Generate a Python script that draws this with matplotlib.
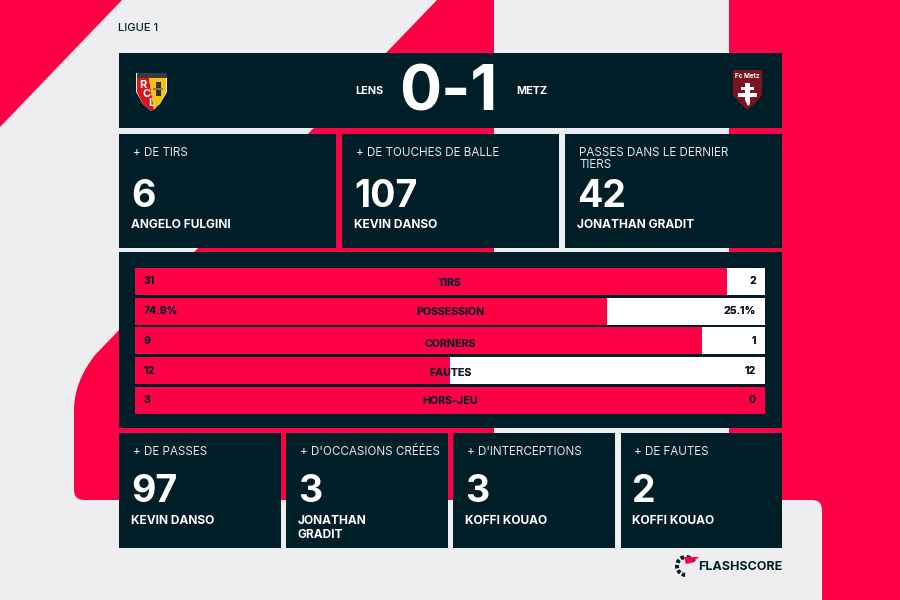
import matplotlib
matplotlib.use("Agg")
import matplotlib.pyplot as plt
from matplotlib.patches import Polygon, Rectangle, PathPatch, Wedge
from matplotlib.path import Path
import numpy as np

# ---- data ----
league = "LIGUE 1"
home_team = "LENS"
away_team = "METZ"
score = "0-1"
top_labels = ["+ DE TIRS", "+ DE TOUCHES DE BALLE", "PASSES DANS LE DERNIER\nTIERS"]
top_values = ["6", "107", "42"]
top_names = ["ANGELO FULGINI", "KEVIN DANSO", "JONATHAN GRADIT"]
bottom_labels = ["+ DE PASSES", "+ D'OCCASIONS CRÉÉES", "+ D'INTERCEPTIONS", "+ DE FAUTES"]
bottom_values = ["97", "3", "3", "2"]
bottom_names = ["KEVIN DANSO", "JONATHAN\nGRADIT", "KOFFI KOUAO", "KOFFI KOUAO"]
stat_names = ["TIRS", "POSSESSION", "CORNERS", "FAUTES", "HORS-JEU"]
home_stats = [31, 74.9, 9, 12, 3]
away_stats = [2, 25.1, 1, 12, 0]
home_text = ["31", "74.9%", "9", "12", "3"]
away_text = ["2", "25.1%", "1", "12", "0"]

# ---- style ----
RED = "#FF0046"
DARK = "#001E28"
LIGHT = "#EEEEF0"
MAROON = "#850A35"
WHITE = "#FFFFFF"
SOFT = "#E4E8EA"
FONT = ["Inter", "DejaVu Sans"]
plt.rcParams["font.family"] = FONT

fig = plt.figure(figsize=(9, 6), dpi=100, facecolor=LIGHT)
bg = fig.add_axes([0, 0, 1, 1])
bg.set_xlim(0, 900)
bg.set_ylim(600, 0)
bg.axis("off")

# background shapes
bg.add_patch(Polygon([(0, 0), (122, 0), (0, 127)], fc=RED, ec="none"))
verts = [(437, 0), (494, 0), (494, 500), (84, 500), (74, 500), (74, 490), (74, 410),
         (74, 382), (95, 355), (437, 0)]
codes = [Path.MOVETO, Path.LINETO, Path.LINETO, Path.LINETO, Path.CURVE3, Path.CURVE3,
         Path.LINETO, Path.CURVE3, Path.CURVE3, Path.LINETO]
bg.add_patch(PathPatch(Path(verts, codes), fc=RED, ec="none"))
bg.add_patch(Rectangle((729, 0), 171, 500, fc=RED, ec="none"))
bg.add_patch(Rectangle((812, 490), 88, 110, fc=RED, ec="none"))
verts = [(700, 500), (812, 500), (822, 500), (822, 510), (822, 600), (700, 600), (700, 500)]
codes = [Path.MOVETO, Path.LINETO, Path.CURVE3, Path.CURVE3, Path.LINETO, Path.LINETO, Path.CLOSEPOLY]
bg.add_patch(PathPatch(Path(verts, codes), fc=LIGHT, ec="none"))


def panel(x0, y0, x1, y1):
    bg.add_patch(Rectangle((x0, y0), x1 - x0, y1 - y0, fc=DARK, ec="none"))


panel(118.5, 53, 782, 128)
panel(118.5, 252, 782, 428)

bg.text(118, 28, league, color=DARK, fontsize=8, ha="left", va="center", fontweight="medium")
bg.text(369.5, 90.5, home_team, color=WHITE, fontsize=7.8, ha="center", va="center", fontweight="bold")
bg.text(531.5, 90.5, away_team, color=WHITE, fontsize=7.8, ha="center", va="center", fontweight="bold")
bg.text(448.5, 94, score, color=WHITE, fontsize=45, ha="center", va="center", fontweight="bold")


def stat_card(x0, x1, y0, y1, label, value, name, lx, vy, ny):
    panel(x0, y0, x1, y1)
    bg.text(lx, y0 + 13, label, color=SOFT, fontsize=8.4, ha="left", va="top",
            linespacing=1.05)
    bg.text(lx - 1.5, vy, value, color=WHITE, fontsize=27, ha="left", va="center", fontweight="bold")
    bg.text(lx - 2, ny, name, color=WHITE, fontsize=8.6, ha="left", va="top",
            fontweight="bold", linespacing=1.25)


top_x = [(118.5, 336), (342, 559), (564.5, 782)]
top_lx = [133, 356, 579]
for (a, b), lab, val, nm, lx in zip(top_x, top_labels, top_values, top_names, top_lx):
    stat_card(a, b, 134, 248, lab, val, nm, lx, 197, 218.5)
bottom_x = [(118.5, 280.5), (286, 447.5), (453, 615), (620.5, 782)]
bottom_lx = [133, 300, 467, 634]
for (a, b), lab, val, nm, lx in zip(bottom_x, bottom_labels, bottom_values, bottom_names, bottom_lx):
    stat_card(a, b, 433, 548, lab, val, nm, lx, 492, 514.5)

# ---- comparison bars, drawn from the data ----
W, H = 900.0, 600.0
bx0, bx1, by0, by1 = 135, 765, 268, 413.8
ax = fig.add_axes([bx0 / W, 1 - by1 / H, (bx1 - bx0) / W, (by1 - by0) / H])
ax.set_xlim(0, 1)
ax.set_ylim(4.45, -0.45)
ax.axis("off")
ax.patch.set_alpha(0)
y = np.arange(len(stat_names))
home = np.array(home_stats, dtype=float)
away = np.array(away_stats, dtype=float)
share = home / (home + away)
ax.barh(y, share, height=0.905, color=RED, linewidth=0)
ax.barh(y, 1 - share, left=share, height=0.905, color=WHITE, linewidth=0)


def two_tone(xp, yp, s, ha, frac):
    """Text that is maroon over the red part of a bar and dark over the white part."""
    for colour, left, width in ((MAROON, 0, frac), (DARK, frac, 1 - frac)):
        t = ax.text(xp, yp, s, color=colour, fontsize=7.6, ha=ha, va="center", fontweight="bold")
        t.set_clip_path(Rectangle((left, yp - 0.5), width, 1, transform=ax.transData))


label_shift = [0.07, 0.02, 0.09, 0.07, 0.02]
for i, name in enumerate(stat_names):
    two_tone(0.5, i + label_shift[i], name, "center", share[i])
    two_tone(9 / 630, i, home_text[i], "left", share[i])
    two_tone(621 / 630, i, away_text[i], "right", share[i])

# ---- crests ----
# Lens
bg.add_patch(Polygon([(136, 73), (167, 73), (167, 92), (160, 104), (151, 111), (143, 104), (136, 92)],
                     fc="#F4F0E4", ec="none"))
bg.add_patch(Polygon([(137, 78), (149, 78), (154, 110), (151, 111), (143, 104), (137, 92)],
                     fc="#D8141F", ec="none"))
bg.add_patch(Polygon([(149, 78), (166, 78), (166, 92), (160, 103), (154, 110)], fc="#F7C20F", ec="none"))
bg.add_patch(Rectangle((136.5, 73), 30, 5, fc="#3A3A3A", ec="none"))
for ch, cx, cy in (("R", 142.5, 85), ("C", 146.5, 94), ("L", 151, 103)):
    bg.text(cx, cy, ch, color=WHITE, fontsize=8, fontweight="bold", ha="center", va="center")
bg.add_patch(Rectangle((155.5, 82), 5, 14, fc="#33302A", ec="none"))
bg.add_patch(Rectangle((153, 88), 10, 2, fc="#8A7A4A", ec="none"))
# Metz
bg.add_patch(Polygon([(733, 70), (762, 70), (762, 95), (755, 103), (747.5, 110), (740, 103), (733, 95)],
                     fc="#7B1420", ec="none"))
bg.text(747.5, 76, "Fc Metz", color=WHITE, fontsize=4.6, fontweight="bold", ha="center", va="center")
bg.add_patch(Polygon([(745, 83), (750, 83), (750, 87), (754, 87), (754, 90), (750, 90), (750, 93), (757, 93),
                      (757, 97), (750, 97), (750, 104), (748, 106), (745, 100), (745, 97), (738, 97),
                      (738, 93), (745, 93), (745, 90), (741, 90), (741, 87), (745, 87)], fc=WHITE, ec="none"))

# ---- Flashscore mark ----
cx, cy = 686, 566
for start in (95, 130, 165, 200, 235, 275, 310):
    bg.add_patch(Wedge((cx, cy), 11, start, start + 22, width=4, fc=DARK, ec="none"))
bg.add_patch(Polygon([(684, 557), (699, 557), (691, 563), (686, 564)], fc=RED, ec="none"))
bg.text(782.5, 566.5, "FLASHSCORE", color=DARK, fontsize=9, fontweight="bold", ha="right", va="center")

fig.savefig("out.png", dpi=100, facecolor=LIGHT)
